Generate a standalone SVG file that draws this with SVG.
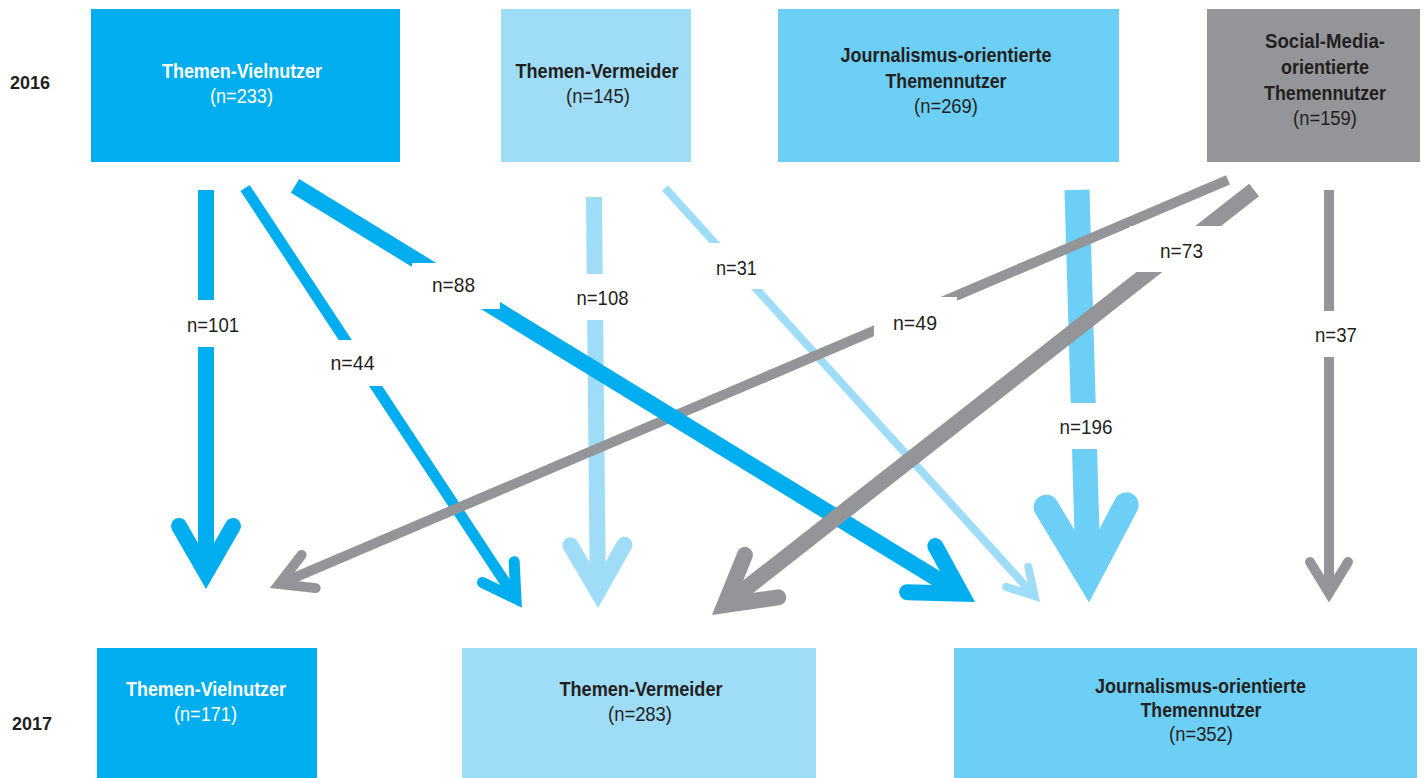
<svg xmlns="http://www.w3.org/2000/svg" width="1424" height="778" viewBox="0 0 1424 778">
<style>
.t{font-family:"Liberation Sans",Arial,sans-serif;font-weight:bold;font-size:21px;fill:#231f20;text-anchor:middle}
.n{font-family:"Liberation Sans",Arial,sans-serif;font-size:20px;fill:#231f20;text-anchor:middle}
.w{fill:#ffffff}
.yr{font-family:"Liberation Sans",Arial,sans-serif;font-weight:bold;font-size:19px;fill:#231f20}
.lb{font-family:"Liberation Sans",Arial,sans-serif;font-size:21px;fill:#231f20;text-anchor:middle}
.blue{fill:#00aeef}.light{fill:#9fdcf8}.cyan{fill:#6dcff6}.grey{fill:#939598}
.sb,.sl,.sc,.sg{fill:none;stroke-linecap:butt}
.sb{stroke:#00aeef}.sl{stroke:#9fdcf8}.sc{stroke:#6dcff6}.sg{stroke:#939598}
.head{fill:none;stroke-linecap:round;stroke-linejoin:miter;stroke-miterlimit:6}
.hb{stroke:#00aeef}.hl{stroke:#9fdcf8}.hc{stroke:#6dcff6}.hg{stroke:#939598}
</style>
<rect width="1424" height="778" fill="#ffffff"/>

<text class="yr" x="10" y="89" textLength="40" lengthAdjust="spacingAndGlyphs">2016</text>
<text class="yr" x="12" y="730" textLength="40" lengthAdjust="spacingAndGlyphs">2017</text>

<g id="node-2016-vielnutzer">
<rect class="blue" x="91" y="9" width="309" height="153"/>
<text class="t" x="242" y="78" textLength="160" lengthAdjust="spacingAndGlyphs" style="fill:#fff">Themen-Vielnutzer</text>
<text class="n" x="241.5" y="103" textLength="63" lengthAdjust="spacingAndGlyphs" style="fill:#fff">(n=233)</text>
</g>
<g id="node-2016-vermeider">
<rect class="light" x="501" y="9" width="190" height="153"/>
<text class="t" x="597" y="78" textLength="163" lengthAdjust="spacingAndGlyphs">Themen-Vermeider</text>
<text class="n" x="598" y="103" textLength="64" lengthAdjust="spacingAndGlyphs">(n=145)</text>
</g>
<g id="node-2016-journalismus">
<rect class="cyan" x="778" y="9" width="341" height="153"/>
<text class="t" x="946" y="62" textLength="211" lengthAdjust="spacingAndGlyphs">Journalismus-orientierte</text>
<text class="t" x="946" y="88" textLength="121" lengthAdjust="spacingAndGlyphs">Themennutzer</text>
<text class="n" x="946" y="113" textLength="64" lengthAdjust="spacingAndGlyphs">(n=269)</text>
</g>
<g id="node-2016-socialmedia">
<rect class="grey" x="1207" y="9" width="213" height="153"/>
<text class="t" x="1325" y="48" textLength="120" lengthAdjust="spacingAndGlyphs">Social-Media-</text>
<text class="t" x="1325" y="74" textLength="88" lengthAdjust="spacingAndGlyphs">orientierte</text>
<text class="t" x="1325" y="100" textLength="122" lengthAdjust="spacingAndGlyphs">Themennutzer</text>
<text class="n" x="1325" y="125" textLength="64" lengthAdjust="spacingAndGlyphs">(n=159)</text>
</g>

<g id="node-2017-vielnutzer">
<rect class="blue" x="97" y="648" width="220" height="130"/>
<text class="t" x="206" y="696" textLength="160" lengthAdjust="spacingAndGlyphs" style="fill:#fff">Themen-Vielnutzer</text>
<text class="n" x="205.5" y="721" textLength="63" lengthAdjust="spacingAndGlyphs" style="fill:#fff">(n=171)</text>
</g>
<g id="node-2017-vermeider">
<rect class="light" x="462" y="648" width="354" height="130"/>
<text class="t" x="641" y="696" textLength="163" lengthAdjust="spacingAndGlyphs">Themen-Vermeider</text>
<text class="n" x="640" y="721" textLength="64" lengthAdjust="spacingAndGlyphs">(n=283)</text>
</g>
<g id="node-2017-journalismus">
<rect class="cyan" x="954" y="648" width="463" height="130"/>
<text class="t" x="1200.5" y="693" textLength="211" lengthAdjust="spacingAndGlyphs">Journalismus-orientierte</text>
<text class="t" x="1201" y="717" textLength="121" lengthAdjust="spacingAndGlyphs">Themennutzer</text>
<text class="n" x="1201" y="741" textLength="64" lengthAdjust="spacingAndGlyphs">(n=352)</text>
</g>

<g id="connectors">
<!-- n=196 -->
<g transform="translate(1089,602) rotate(88.33)">
<line class="sc" x1="-412.2" y1="0" x2="-25" y2="0" stroke-width="25"/>
<polyline class="head hc" points="-96,-40 -25,0 -96,40" stroke-width="25"/>
</g>
<!-- n=108 -->
<g transform="translate(598,608) rotate(89.44)">
<line class="sl" x1="-411" y1="0" x2="-16" y2="0" stroke-width="16"/>
<polyline class="head hl" points="-63,-27 -16,0 -63,27" stroke-width="16"/>
</g>
<!-- n=31 -->
<g transform="translate(1040,602) rotate(47.83)">
<line class="sl" x1="-558.6" y1="0" x2="-8" y2="0" stroke-width="8"/>
<polyline class="head hl" points="-34,-15 -8,0 -34,15" stroke-width="8"/>
</g>
<!-- n=101 -->
<g transform="translate(206,589) rotate(90)">
<line class="sb" x1="-399" y1="0" x2="-16" y2="0" stroke-width="16"/>
<polyline class="head hb" points="-63,-27 -16,0 -63,27" stroke-width="16"/>
</g>
<!-- n=44 -->
<g transform="translate(522,608) rotate(56.6)">
<line class="sb" x1="-503.1" y1="0" x2="-11" y2="0" stroke-width="11"/>
<polyline class="head hb" points="-43,-19 -11,0 -43,19" stroke-width="11"/>
</g>
<!-- n=49 -->
<g transform="translate(270,588) rotate(156.93)">
<line class="sg" x1="-1041.3" y1="0" x2="-10" y2="0" stroke-width="10"/>
<polyline class="head hg" points="-42,-18 -10,0 -42,18" stroke-width="10"/>
</g>
<!-- n=88 -->
<g transform="translate(975,602) rotate(31.46)">
<line class="sb" x1="-797.2" y1="0" x2="-16" y2="0" stroke-width="16"/>
<polyline class="head hb" points="-63,-27 -16,0 -63,27" stroke-width="16"/>
</g>
<!-- n=73 -->
<g transform="translate(712,615) rotate(141.9)">
<line class="sg" x1="-688.8" y1="0" x2="-16" y2="0" stroke-width="16"/>
<polyline class="head hg" points="-63,-27 -16,0 -63,27" stroke-width="16"/>
</g>
<!-- n=37 -->
<g transform="translate(1329,603) rotate(90)">
<line class="sg" x1="-413" y1="0" x2="-10" y2="0" stroke-width="10"/>
<polyline class="head hg" points="-41,-19 -10,0 -41,19" stroke-width="10"/>
</g>

<!-- labels -->
<rect class="w" x="180" y="300" width="65" height="47"/>
<text class="lb" x="213" y="332" textLength="52" lengthAdjust="spacingAndGlyphs">n=101</text>
<rect class="w" x="322" y="340" width="60" height="46"/>
<text class="lb" x="352.5" y="370" textLength="44" lengthAdjust="spacingAndGlyphs">n=44</text>
<rect class="w" x="412" y="263" width="88" height="46"/>
<text class="lb" x="453.5" y="292" textLength="43" lengthAdjust="spacingAndGlyphs">n=88</text>
<rect class="w" x="570" y="274" width="65" height="46"/>
<text class="lb" x="602.5" y="305" textLength="52" lengthAdjust="spacingAndGlyphs">n=108</text>
<rect class="w" x="705" y="243" width="65" height="46"/>
<text class="lb" x="736.5" y="275" textLength="41" lengthAdjust="spacingAndGlyphs">n=31</text>
<rect class="w" x="874" y="297" width="83" height="51"/>
<text class="lb" x="915" y="330" textLength="44" lengthAdjust="spacingAndGlyphs">n=49</text>
<rect class="w" x="1130" y="226" width="95" height="46"/>
<text class="lb" x="1181.5" y="258" textLength="43" lengthAdjust="spacingAndGlyphs">n=73</text>
<rect class="w" x="1055" y="403" width="65" height="46"/>
<text class="lb" x="1086" y="434" textLength="53" lengthAdjust="spacingAndGlyphs">n=196</text>
<rect class="w" x="1305" y="311" width="60" height="46"/>
<text class="lb" x="1336" y="342" textLength="42" lengthAdjust="spacingAndGlyphs">n=37</text>
</g>
</svg>
